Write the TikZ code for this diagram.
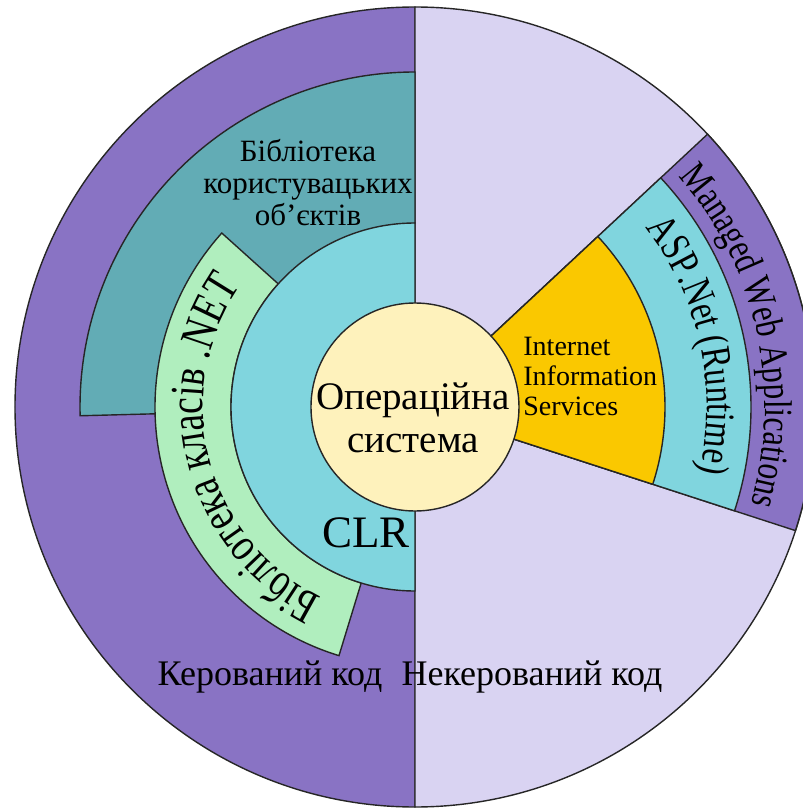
\documentclass[tikz,border=0pt]{standalone}
\usepackage{fontspec}
\setmainfont{Liberation Serif}
\newfontfamily\ringfont[FakeStretch=0.78]{Liberation Serif}
\usetikzlibrary{decorations.text}

\definecolor{managed}{HTML}{8973C4}
\definecolor{unmanaged}{HTML}{D9D3F2}
\definecolor{userlib}{HTML}{62ACB5}
\definecolor{netlib}{HTML}{B0EEBE}
\definecolor{clr}{HTML}{80D5DE}
\definecolor{os}{HTML}{FEF2BC}
\definecolor{iis}{HTML}{FAC800}

\newcommand{\fsz}[2]{\fontsize{#1}{#2}\selectfont}

\begin{document}
\begin{tikzpicture}[x=0.5pt,y=0.5pt,every node/.style={inner sep=0pt,align=center}]
	\tikzstyle{part}=[draw=black!85,line width=0.7pt]
	\tikzstyle{ringtext}=[decorate,decoration={text along path,text align=center}]
	\useasboundingbox (-415,-402) rectangle (388,407);
	% managed and unmanaged halves
	\filldraw[part,fill=managed] (90:400) arc[start angle=90,end angle=270,radius=400] -- cycle;
	\filldraw[part,fill=unmanaged] (-90:400) arc[start angle=-90,end angle=90,radius=400] -- cycle;
	% user objects library
	\filldraw[part,fill=userlib] (90:184) -- (90:335) arc[start angle=90,end angle=181.5,radius=335] -- (181.5:184) -- cycle;
	% .NET class library
	\filldraw[part,fill=netlib] (138:184) -- (138:260) arc[start angle=138,end angle=253,radius=260]
	    -- (253:184) arc[start angle=253,end angle=138,radius=184] -- cycle;
	% CLR
	\filldraw[part,fill=clr] (90:184) arc[start angle=90,end angle=270,radius=184] -- cycle;
	% web stack
	\filldraw[part,fill=managed] (-18:104) -- (-18:400) arc[start angle=-18,end angle=43,radius=400] -- (43:104) -- cycle;
	\filldraw[part,fill=clr] (-18:104) -- (-18:336) arc[start angle=-18,end angle=43,radius=336] -- (43:104) -- cycle;
	\filldraw[part,fill=iis] (-18:104) -- (-18:250) arc[start angle=-18,end angle=43,radius=250] -- (43:104) -- cycle;
	% operating system
	\node[part,circle,fill=os,minimum size=104pt] (os) at (0,0) {};
	\node[font=\fsz{19.5}{21.5}] (ostext) at (-2,-11) {Операційна\\система};
	\node[font=\fsz{22.5}{24}] (clrtext) at (-49,-126) {CLR};
	\node[font=\fsz{15.5}{16}] (userlibtext) at (-107,224) {Бібліотека\\користувацьких\\об’єктів};
	\node[font=\fsz{14}{15},anchor=west,align=left] (iistext) at (108,31) {Internet\\Information\\Services};
	\node[font=\fsz{18}{20}] (managedtext) at (-145,-270) {Керований код};
	\node[font=\fsz{18}{20}] (unmanagedtext) at (117,-270) {Некерований код};
	% texts along the rings
	\path[ringtext,decoration={text={|\ringfont\fsz{24}{26}|Бібліотека класів .NET}}]
	    (246:212) arc[start angle=246,end angle=143,radius=212];
	\path[ringtext,decoration={text={|\ringfont\fsz{21}{23}|ASP.Net (Runtime)}}]
	    (40:292) arc[start angle=40,end angle=-15,radius=292];
	\path[ringtext,decoration={text={|\ringfont\fsz{20}{22}|Managed Web Applications}}]
	    (42:350) arc[start angle=42,end angle=-17,radius=350];
\end{tikzpicture}
\end{document}
